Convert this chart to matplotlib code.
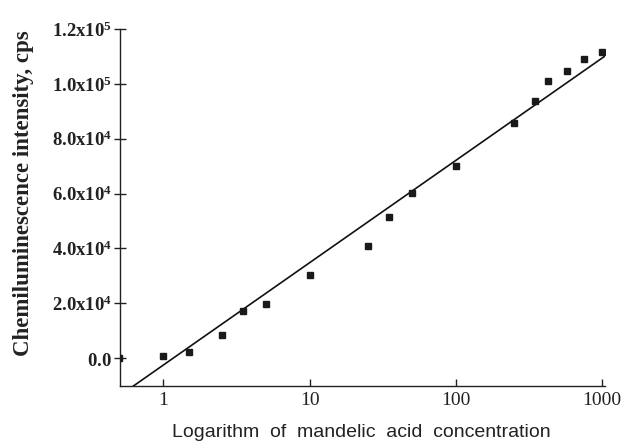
import matplotlib
matplotlib.use("Agg")
import matplotlib.pyplot as plt
import numpy as np

# ---- data ----
concentration = [0.5, 1, 1.5, 2.5, 3.5, 5, 10, 25, 35, 50, 100, 250, 350, 430, 580, 750, 1000]
intensity = [0, 700, 2200, 8400, 17200, 19700, 30300, 40900, 51300, 60200, 70100,
             85800, 93800, 101100, 104700, 109100, 111700]

fit_intercept = -2550.0      # value at concentration = 1
fit_slope = 37300.0          # per decade
fit_range = [0.5, 1050]

xtick_values = [1, 10, 100, 1000]
xtick_labels = ["1", "10", "100", "1000"]
ytick_values = [0, 2.0e4, 4.0e4, 6.0e4, 8.0e4, 1.0e5, 1.2e5]
ytick_mantissa = ["0.0", "2.0", "4.0", "6.0", "8.0", "1.0", "1.2"]
ytick_exponent = ["", "4", "4", "4", "4", "5", "5"]

xlabel = "Logarithm  of  mandelic  acid  concentration"
ylabel = "Chemiluminescence intensity, cps"

# ---- styling ----
plt.rcParams["mathtext.fontset"] = "custom"
plt.rcParams["mathtext.rm"] = "Liberation Serif"
plt.rcParams["mathtext.bf"] = "Liberation Serif:bold"
plt.rcParams["mathtext.it"] = "Liberation Serif:italic"

W, H = 621, 443
fig = plt.figure(figsize=(W / 100, H / 100), dpi=100)
ax = fig.add_axes([120 / W, 57 / H, (605 - 120) / W, (386 - 29) / H])

ax.set_xscale("log")
ax.set_xlim(0.505, 1050)
ax.set_ylim(-1.02e4, 1.2e5)

# fit line
xs = np.logspace(np.log10(fit_range[0]), np.log10(fit_range[1]), 200)
ax.plot(xs, fit_intercept + fit_slope * np.log10(xs), color="#111111", lw=1.2, zorder=2)

# data points
ax.plot(concentration, intensity, linestyle="none", marker="s", markersize=5,
        color="#1a1a1a", zorder=3, clip_on=True)

for s in ["top", "right"]:
    ax.spines[s].set_visible(False)
for s in ["left", "bottom"]:
    ax.spines[s].set_linewidth(1.0)
    ax.spines[s].set_color("#222222")

ax.set_xticks(xtick_values)
ax.set_xticklabels(xtick_labels, fontfamily="Liberation Serif", fontsize=14, color="#222222")
ax.xaxis.set_minor_locator(matplotlib.ticker.NullLocator())
ax.tick_params(axis="x", direction="in", length=5, width=1, color="#222222", pad=4)

ylabels = []
for m, e in zip(ytick_mantissa, ytick_exponent):
    if e:
        ylabels.append(r"$\mathbf{%s x10^{%s}}$" % (m, e))
    else:
        ylabels.append(r"$\mathbf{%s}$" % m)
ax.set_yticks(ytick_values)
ax.set_yticklabels(ylabels, fontsize=13.5, color="#222222")
ax.tick_params(axis="y", direction="inout", length=8, width=1, color="#222222", pad=2)

fig.text(361 / W, 1 - 437 / H, xlabel, fontfamily="Liberation Sans", fontsize=14,
         color="#222222", ha="center", va="baseline")
fig.text(24 / W, 1 - 193 / H, ylabel, fontfamily="Liberation Serif", fontweight="bold",
         fontsize=16.5, color="#222222", ha="center", va="center", rotation=90)

fig.savefig("out.png", dpi=100)
